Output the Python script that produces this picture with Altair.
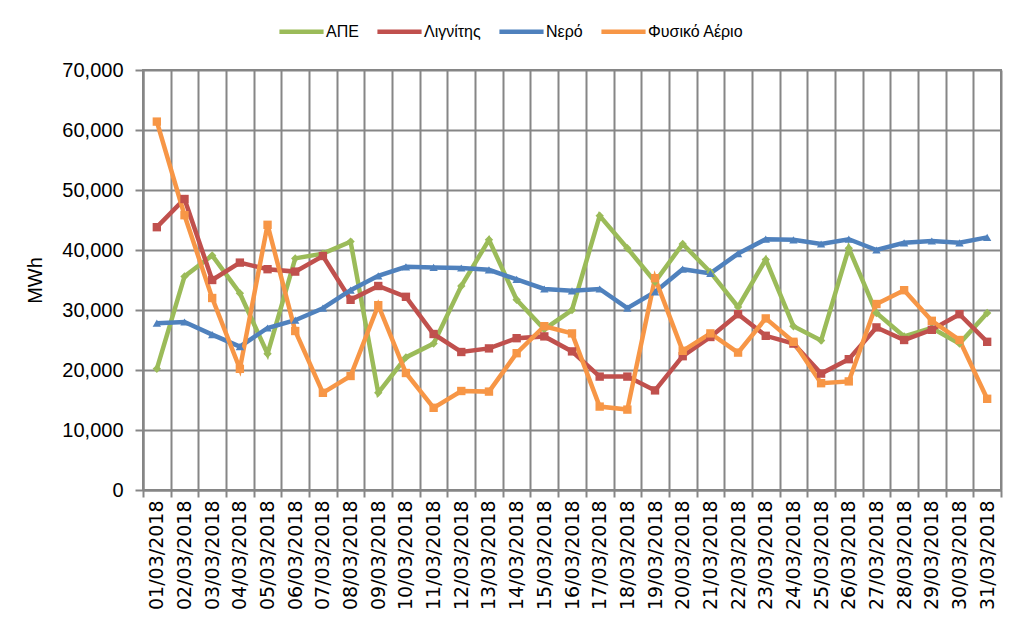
import altair as alt
import pandas as pd

dates = ["01/03/2018", "02/03/2018", "03/03/2018", "04/03/2018", "05/03/2018",
         "06/03/2018", "07/03/2018", "08/03/2018", "09/03/2018", "10/03/2018",
         "11/03/2018", "12/03/2018", "13/03/2018", "14/03/2018", "15/03/2018",
         "16/03/2018", "17/03/2018", "18/03/2018", "19/03/2018", "20/03/2018",
         "21/03/2018", "22/03/2018", "23/03/2018", "24/03/2018", "25/03/2018",
         "26/03/2018", "27/03/2018", "28/03/2018", "29/03/2018", "30/03/2018",
         "31/03/2018"]

series_names = ["ΑΠΕ", "Λιγνίτης", "Νερό", "Φυσικό Αέριο"]
series_colors = ["#9bbb59", "#c0504d", "#4f81bd", "#f79646"]
series_shapes = ["diamond", "square", "triangle-up", "square"]

ape = [20200, 35600, 39100, 32800, 22700, 38600, 39400, 41400, 16200, 22100,
       24400, 34000, 41700, 31700, 26800, 30000, 45700, 40300, 34700, 41000,
       36300, 30500, 38400, 27300, 24900, 40300, 29500, 25600, 27000, 24400, 29500]
lignitis = [43800, 48500, 35000, 37900, 36800, 36400, 39000, 31700, 34000, 32200,
            26000, 23000, 23600, 25300, 25600, 23100, 18900, 18900, 16600, 22300,
            25500, 29300, 25700, 24400, 19400, 21800, 27100, 25000, 26700, 29300, 24700]
nero = [27800, 28000, 25900, 23900, 27000, 28300, 30300, 33300, 35700, 37200,
        37100, 37000, 36700, 35100, 33500, 33200, 33500, 30300, 33000, 36800,
        36100, 39400, 41800, 41700, 41000, 41800, 40000, 41200, 41500, 41200, 42100]
fysiko = [61400, 45800, 32000, 20200, 44200, 26500, 16200, 19000, 30800, 19500,
          13700, 16500, 16400, 22800, 27300, 26100, 13900, 13400, 35300, 23200,
          26100, 22900, 28600, 24700, 17800, 18100, 31000, 33300, 28200, 25000, 15200]

y_ticks = [0, 10000, 20000, 30000, 40000, 50000, 60000, 70000]

rows = []
for name, vals in zip(series_names, [ape, lignitis, nero, fysiko]):
    for i, v in enumerate(vals):
        rows.append({"day": i + 1, "date": dates[i], "series": name, "value": v})
df = pd.DataFrame(rows)

n = len(dates)
bounds = [i + 0.5 for i in range(n + 1)]
label_arr = "[" + ",".join("'" + d + "'" for d in dates) + "]"
label_expr = f"datum.value < {n} ? {label_arr}[floor(datum.value)] : ''"

W, H = 858, 420
band = W / n
GRID = "#868686"

color_scale = alt.Scale(domain=series_names, range=series_colors)

x_enc = alt.X(
    "day:Q",
    title=None,
    scale=alt.Scale(domain=[0.5, n + 0.5], nice=False, zero=False),
    axis=alt.Axis(
        values=bounds, labelExpr=label_expr, labelOffset=band / 2,
        labelAngle=270, labelFontSize=19, labelFont="DejaVu Sans",
        labelColor="#000000", labelOverlap=False, labelFlush=False,
        labelBound=False, tickSize=7, labelPadding=3, grid=True,
    ),
)
y_enc = alt.Y(
    "value:Q",
    title="MWh",
    scale=alt.Scale(domain=[0, 70000], nice=False),
    axis=alt.Axis(
        values=y_ticks, format=",.0f", labelFontSize=20,
        labelFont="Liberation Sans", labelColor="#000000", tickSize=8,
        labelPadding=12, titleFontSize=20, titleFont="Liberation Sans",
        titleFontWeight="normal", titleColor="#000000", titlePadding=16,
        grid=True,
    ),
)

lines = alt.Chart(df).mark_line(strokeWidth=4.5).encode(
    x=x_enc, y=y_enc,
    color=alt.Color(
        "series:N", sort=series_names, scale=color_scale,
        legend=alt.Legend(
            title=None, orient="none", direction="horizontal", columns=4,
            legendX=134, legendY=-63, symbolType="stroke", symbolStrokeWidth=4.5,
            symbolSize=1950, labelFontSize=16, labelFont="Liberation Sans",
            labelColor="#000000", columnPadding=9, labelOffset=0,
        ),
    ),
    detail="series:N",
)

points = alt.Chart(df).mark_point(filled=True, size=70, opacity=1).encode(
    x=x_enc, y=y_enc,
    color=alt.Color("series:N", sort=series_names, scale=color_scale, legend=None),
    shape=alt.Shape("series:N", sort=series_names,
                    scale=alt.Scale(domain=series_names, range=series_shapes),
                    legend=None),
)

chart = (
    alt.layer(lines, points)
    .resolve_legend(color="independent", shape="independent")
    .properties(
        width=W, height=H,
        autosize=alt.AutoSizeParams(type="none"),
        padding={"left": 135, "top": 62, "right": 15, "bottom": 129},
        background="#ffffff",
    )
    .configure_view(stroke=GRID, strokeWidth=2)
    .configure_axis(
        gridColor=GRID, gridWidth=2, gridOpacity=1,
        domainColor=GRID, domainWidth=2, tickColor=GRID, tickWidth=2,
    )
)

chart.save("out.html", embed_options={"renderer": "svg", "actions": False})
